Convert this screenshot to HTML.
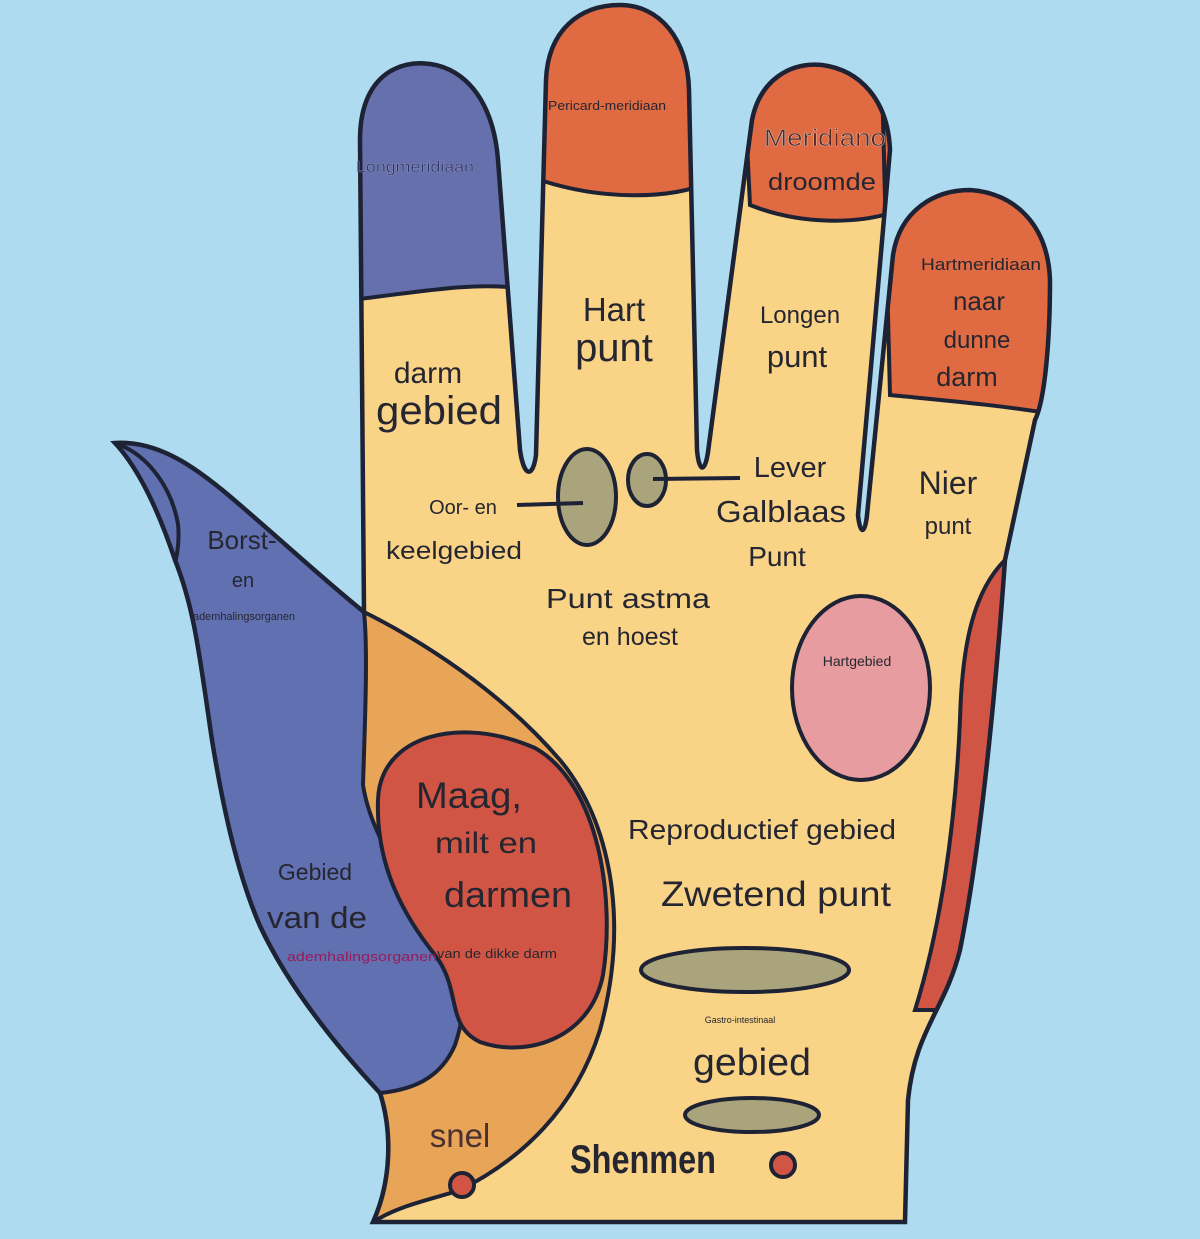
<!DOCTYPE html>
<html><head><meta charset="utf-8"><style>
html,body{margin:0;padding:0;background:#aedbef;}
svg{display:block}
text{font-family:"Liberation Sans","DejaVu Sans",sans-serif;fill:#262630;}
</style></head><body>
<svg width="1200" height="1239" viewBox="0 0 1200 1239" xmlns="http://www.w3.org/2000/svg">
<rect width="1200" height="1239" fill="#aedbef"/>
<defs>
<clipPath id="hand">
<path id="hp" d="M373 1222 C392 1180 392 1130 380 1093 C340 1050 290 990 260 926 C240 880 225 820 212 740 C200 660 195 610 175 560 C160 515 140 470 115 443 C160 440 200 470 240 505 C290 548 330 585 364 612 L360 140 C360 60 420 55 450 70 C480 85 495 120 498 160 L520 450 C524 478 533 478 536 455 L546 80 C548 30 580 5 620 5 C660 5 688 40 689 90 L697 450 C699 473 705 473 708 452 L752 120 C760 80 790 62 822 65 C860 70 888 100 890 150 L858 515 C860 535 865 535 867 515 L893 255 C900 210 935 190 970 190 C1015 193 1048 225 1050 280 C1050 340 1045 400 1035 420 L1005 560 C995 700 980 850 960 950 C945 1010 915 1030 908 1100 L905 1222 Z"/>
</clipPath>
</defs>
<g clip-path="url(#hand)">
<rect x="0" y="0" width="1200" height="1239" fill="#f9d487"/>
<path d="M340 0 L520 0 L520 288 C470 282 420 292 350 300 Z" fill="#6670ad" stroke="#1e2235" stroke-width="4"/>
<path d="M530 0 L710 0 L710 182 C670 200 600 200 540 180 Z" fill="#e06a42" stroke="#1e2235" stroke-width="4"/>
<path d="M740 0 L900 0 L900 210 C860 225 800 225 750 205 Z" fill="#e06a42" stroke="#1e2235" stroke-width="4"/>
<path d="M880 0 L1060 0 L1060 415 C1000 405 940 400 890 395 Z" fill="#e06a42" stroke="#1e2235" stroke-width="4"/>
<path d="M364 612 C420 640 500 690 560 760 C610 820 630 920 600 1030 C575 1110 520 1160 460 1190 C430 1200 400 1205 373 1222 L300 1240 L250 900 Z" fill="#e8a457" stroke="#1e2235" stroke-width="4"/>
<path d="M364 612 C368 650 365 720 363 785 C370 830 400 880 440 925 C465 960 470 1000 455 1045 C440 1080 410 1090 380 1093 L0 1239 L0 420 L355 420 Z" fill="#6170b0" stroke="#1e2235" stroke-width="4"/>
<path d="M115 443 C150 455 172 490 178 524 C180 545 176 560 173 571" fill="none" stroke="#1e2235" stroke-width="4"/>
<path d="M1005 560 C975 590 962 640 960 720 C955 830 940 930 915 1010 L1100 1010 L1100 560 Z" fill="#d05544" stroke="#1e2235" stroke-width="4"/>
<path d="M378 800 C380 735 460 715 535 748 C600 785 615 900 603 975 C590 1040 525 1058 480 1042 C445 1025 462 990 435 955 C395 905 376 855 378 800 Z" fill="#d05545" stroke="#1e2235" stroke-width="4"/>
</g>
<use href="#hp" fill="none" stroke="#1e2235" stroke-width="4.5"/>
<ellipse cx="587" cy="497" rx="29" ry="48" fill="#a9a47c" stroke="#1e2235" stroke-width="4"/>
<ellipse cx="647" cy="480" rx="19" ry="26" fill="#a9a47c" stroke="#1e2235" stroke-width="4"/>
<line x1="517" y1="505" x2="583" y2="503" stroke="#1e2235" stroke-width="4"/>
<line x1="653" y1="479" x2="740" y2="478" stroke="#1e2235" stroke-width="4"/>
<ellipse cx="861" cy="688" rx="69" ry="92" fill="#e79ca0" stroke="#1e2235" stroke-width="4"/>
<ellipse cx="745" cy="970" rx="104" ry="22" fill="#a9a47c" stroke="#1e2235" stroke-width="4"/>
<ellipse cx="752" cy="1115" rx="67" ry="17" fill="#a9a47c" stroke="#1e2235" stroke-width="4"/>
<circle cx="462" cy="1185" r="12" fill="#d05545" stroke="#1e2235" stroke-width="4"/>
<circle cx="783" cy="1165" r="12" fill="#d05545" stroke="#1e2235" stroke-width="4"/>
<g text-anchor="middle">
<text x="415" y="172" font-size="16" style="fill:#2a3060;stroke:#b8bcd8;stroke-width:0.25" textLength="118" lengthAdjust="spacingAndGlyphs">Longmeridiaan</text>
<text x="607" y="110" font-size="13" textLength="118" lengthAdjust="spacingAndGlyphs">Pericard-meridiaan</text>
<text x="825" y="146" font-size="24" style="fill:#5a2a22;stroke:#e8e0dc;stroke-width:0.35" textLength="122" lengthAdjust="spacingAndGlyphs">Meridiano</text>
<text x="822" y="190" font-size="24" textLength="108" lengthAdjust="spacingAndGlyphs">droomde</text>
<text x="981" y="270" font-size="17" textLength="120" lengthAdjust="spacingAndGlyphs">Hartmeridiaan</text>
<text x="979" y="310" font-size="26">naar</text>
<text x="977" y="348" font-size="24">dunne</text>
<text x="967" y="386" font-size="27">darm</text>
<text x="614" y="321" font-size="33">Hart</text>
<text x="614" y="361" font-size="40">punt</text>
<text x="800" y="323" font-size="24">Longen</text>
<text x="797" y="367" font-size="31">punt</text>
<text x="428" y="383" font-size="30">darm</text>
<text x="439" y="424" font-size="40" textLength="126" lengthAdjust="spacingAndGlyphs">gebied</text>
<text x="790" y="477" font-size="29">Lever</text>
<text x="781" y="522" font-size="31" textLength="130" lengthAdjust="spacingAndGlyphs">Galblaas</text>
<text x="777" y="566" font-size="28">Punt</text>
<text x="948" y="494" font-size="32">Nier</text>
<text x="948" y="534" font-size="24">punt</text>
<text x="463" y="514" font-size="20">Oor- en</text>
<text x="454" y="559" font-size="25" textLength="136" lengthAdjust="spacingAndGlyphs">keelgebied</text>
<text x="628" y="608" font-size="28" textLength="164" lengthAdjust="spacingAndGlyphs">Punt astma</text>
<text x="630" y="645" font-size="25">en hoest</text>
<text x="242" y="549" font-size="26">Borst-</text>
<text x="243" y="587" font-size="20">en</text>
<text x="244" y="620" font-size="11" textLength="102" lengthAdjust="spacingAndGlyphs">ademhalingsorganen</text>
<text x="857" y="666" font-size="14">Hartgebied</text>
<text x="469" y="808" font-size="37" textLength="106" lengthAdjust="spacingAndGlyphs">Maag,</text>
<text x="486" y="853" font-size="30" textLength="102" lengthAdjust="spacingAndGlyphs">milt en</text>
<text x="508" y="907" font-size="36" textLength="128" lengthAdjust="spacingAndGlyphs">darmen</text>
<text x="762" y="839" font-size="28" textLength="268" lengthAdjust="spacingAndGlyphs">Reproductief gebied</text>
<text x="776" y="906" font-size="35" textLength="230" lengthAdjust="spacingAndGlyphs">Zwetend punt</text>
<text x="315" y="880" font-size="23">Gebied</text>
<text x="317" y="928" font-size="31" textLength="100" lengthAdjust="spacingAndGlyphs">van de</text>
<text x="740" y="1023" font-size="9">Gastro-intestinaal</text>
<text x="752" y="1075" font-size="38" textLength="118" lengthAdjust="spacingAndGlyphs">gebied</text>
<text x="460" y="1147" font-size="33" style="fill:#4a3030">snel</text>
<text x="643" y="1173" font-size="40" font-weight="bold" textLength="146" lengthAdjust="spacingAndGlyphs">Shenmen</text>
</g>
<text x="287" y="961" font-size="13" style="fill:#9a1a5a" textLength="150" lengthAdjust="spacingAndGlyphs">ademhalingsorganen</text>
<text x="437" y="958" font-size="13" textLength="120" lengthAdjust="spacingAndGlyphs">van de dikke darm</text>
</svg>
</body></html>
